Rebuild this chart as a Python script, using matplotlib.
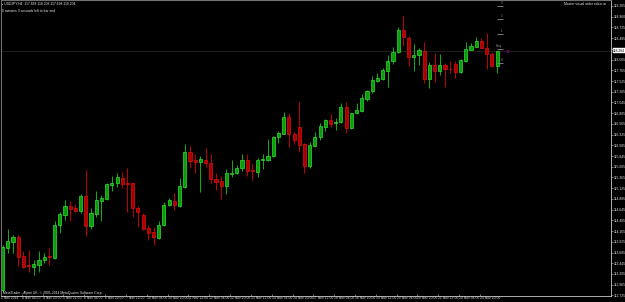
import matplotlib
matplotlib.use("Agg")
import matplotlib.pyplot as plt
import numpy as np

# USDJPY H4 candles
opens = [112.846, 113.793, 113.927, 114.039, 113.607, 113.395, 113.368, 113.406, 113.518, 113.592,
         113.569, 114.295, 114.532, 114.727, 114.675, 114.621, 114.957, 114.286, 114.554, 114.845,
         114.890, 115.204, 115.235, 115.360, 115.242, 115.235, 114.689, 114.525, 114.227, 114.145,
         114.017, 114.295, 114.742, 114.839, 114.727, 115.159, 115.936, 115.757, 115.719, 115.757,
         115.696, 115.331, 115.286, 115.181, 115.443, 115.459, 115.571, 115.757, 115.539, 115.495,
         115.757, 115.757, 115.839, 116.272, 116.346, 116.713, 116.346, 116.489, 116.108, 115.616,
         116.077, 116.272, 116.502, 116.646, 116.578, 116.614, 116.937, 116.466, 116.802, 116.860,
         117.129, 117.302, 117.532, 117.570, 117.756, 117.973, 118.168, 118.667, 118.495, 118.056,
         118.114, 118.204, 117.570, 117.884, 117.756, 117.884, 117.794, 117.906, 117.720, 117.980,
         118.226, 118.293, 118.428, 118.271, 118.130, 117.868]
highs = [113.854, 114.212, 114.077, 114.066, 113.719, 113.742, 113.518, 113.726, 113.681, 113.793,
         114.391, 114.592, 114.854, 114.832, 114.771, 114.995, 115.533, 114.682, 115.063, 114.973,
         115.235, 115.398, 115.472, 115.481, 115.584, 115.264, 114.727, 114.563, 114.301, 114.263,
         114.391, 114.823, 114.913, 115.024, 115.360, 116.115, 116.070, 115.891, 115.853, 116.019,
         115.884, 115.472, 115.398, 115.548, 115.757, 115.645, 115.891, 115.884, 115.683, 115.808,
         115.884, 116.220, 116.301, 116.413, 116.831, 116.809, 116.377, 117.062, 116.126, 116.166,
         116.377, 116.578, 116.675, 116.787, 116.690, 117.026, 117.049, 116.816, 117.026, 117.228,
         117.324, 117.644, 117.698, 117.823, 118.108, 118.293, 118.728, 118.981, 118.533, 118.354,
         118.258, 118.392, 117.958, 118.146, 118.123, 117.935, 117.980, 117.980, 118.018, 118.399,
         118.370, 118.504, 118.481, 118.600, 118.181, 118.208]
lows = [112.801, 113.681, 113.668, 113.390, 113.332, 113.249, 113.182, 113.249, 113.444, 113.406,
        113.547, 114.129, 114.413, 114.391, 114.592, 114.577, 114.062, 114.218, 114.487, 114.398,
        114.854, 115.069, 115.159, 115.123, 114.599, 114.474, 114.250, 114.189, 113.965, 113.854,
        113.995, 114.279, 114.727, 114.637, 114.711, 115.130, 115.577, 115.459, 115.040, 115.593,
        115.248, 115.085, 114.883, 115.002, 115.383, 115.436, 115.510, 115.398, 115.309, 115.369,
        115.548, 115.728, 115.824, 116.144, 116.332, 116.054, 116.108, 115.942, 115.459, 115.571,
        116.054, 116.204, 116.406, 116.502, 116.428, 116.585, 116.355, 116.451, 116.787, 116.825,
        117.084, 117.250, 117.510, 117.548, 117.398, 117.899, 118.146, 118.309, 117.861, 117.756,
        117.884, 117.474, 117.375, 117.510, 117.660, 117.398, 117.711, 117.586, 117.698, 117.958,
        118.220, 118.280, 118.258, 117.794, 117.846, 117.698]
closes = [113.809, 113.943, 114.039, 113.592, 113.368, 113.372, 113.428, 113.518, 113.592, 113.578,
          114.295, 114.541, 114.720, 114.653, 114.621, 114.951, 114.286, 114.570, 114.854, 114.906,
          115.213, 115.248, 115.369, 115.226, 115.226, 114.675, 114.586, 114.212, 114.129, 114.026,
          114.301, 114.749, 114.861, 114.742, 115.168, 115.936, 115.741, 115.705, 115.772, 115.696,
          115.324, 115.264, 115.174, 115.459, 115.472, 115.577, 115.757, 115.517, 115.504, 115.763,
          115.779, 115.846, 116.278, 116.361, 116.719, 116.346, 116.204, 116.099, 115.616, 116.092,
          116.278, 116.511, 116.652, 116.569, 116.614, 116.937, 116.480, 116.802, 116.869, 117.138,
          117.302, 117.548, 117.586, 117.772, 117.980, 118.168, 118.667, 118.504, 118.056, 118.108,
          118.220, 117.570, 117.884, 117.756, 117.884, 117.787, 117.783, 117.720, 117.996, 118.235,
          118.309, 118.428, 118.271, 118.123, 117.868, 118.204]

time_labels = ["2 Nov 2014", "4 Nov 04:00", "4 Nov 20:00", "5 Nov 12:00", "6 Nov 04:00",
               "6 Nov 20:00", "7 Nov 12:00", "10 Nov 04:00", "10 Nov 20:00", "11 Nov 12:00",
               "12 Nov 04:00", "12 Nov 20:00", "13 Nov 12:00", "14 Nov 04:00", "14 Nov 20:00",
               "17 Nov 12:00", "18 Nov 04:00", "18 Nov 20:00", "19 Nov 12:00", "20 Nov 04:00",
               "20 Nov 20:00", "21 Nov 12:00", "24 Nov 04:00", "24 Nov 20:00"]
price_labels = ["119.205", "118.960", "118.725", "118.485", "118.240", "118.005", "117.765",
                "117.525", "117.285", "117.045", "116.805", "116.565", "116.325", "116.085",
                "115.845", "115.605", "115.365", "115.125", "114.885", "114.645", "114.405",
                "114.165", "113.925", "113.685", "113.445", "113.205", "112.965", "112.725"]

# order editor levels drawn at the right of the last bar
order_levels = [119.205, 118.914, 118.578, 118.242, 117.928]
order_names = ["3", "2", "1", "Entry", "S"]

FONT = ["Liberation Sans", "DejaVu Sans"]
FS = 2.4

fig = plt.figure(figsize=(6.25, 3.02), dpi=100, facecolor="black")
ax = fig.add_axes([1 / 625, 6 / 302, 610 / 625, 296 / 302])
ax.set_facecolor("black")

o = np.array(opens)
h = np.array(highs)
l = np.array(lows)
c = np.array(closes)
x = np.arange(len(o))
up = c >= o

# bid line
ax.axhline(c[-1], color="#2c2c2c", lw=0.5, zorder=0)

wick_col = np.where(up, "#10b010", "#c00000")
ax.vlines(x, l, h, colors=wick_col, lw=0.7, zorder=1)
body_lo = np.minimum(o, c)
body_h = np.maximum(np.abs(c - o), 0.022)
ax.bar(x[up], body_h[up], bottom=body_lo[up], width=0.6,
       color="#0e9a0e", edgecolor="#2ee02e", lw=0.5, zorder=2)
ax.bar(x[~up], body_h[~up], bottom=body_lo[~up], width=0.6,
       color="#a80000", edgecolor="#e01010", lw=0.5, zorder=2)

ax.set_xlim(-0.2, -0.2 + 610 / 5.21)
ax.set_ylim(112.711, 119.339)

# axes look
for s in ["left", "top"]:
    ax.spines[s].set_color("#707070")
    ax.spines[s].set_linewidth(0.8)
for s in ["right", "bottom"]:
    ax.spines[s].set_color("#c8c8c8")
    ax.spines[s].set_linewidth(0.6)

ax.yaxis.tick_right()
ax.set_yticks([float(v) for v in price_labels], price_labels)
ax.set_xticks(np.arange(0, len(time_labels) * 4, 4) - 0.3, time_labels, ha="left")
ax.tick_params(axis="both", colors="#c8c8c8", length=1.5, width=0.4, labelsize=FS,
               labelcolor="#e0e0e0", pad=0.6)
ax.tick_params(axis="x", direction="in", pad=0.3)
for lab in ax.get_xticklabels() + ax.get_yticklabels():
    lab.set_family(FONT)

# current price box
ax.annotate(f"{c[-1]:.3f}", xy=(1.0, c[-1]), xycoords=("axes fraction", "data"),
            xytext=(1.5, 0), textcoords="offset points", va="center", ha="left",
            fontsize=FS, family=FONT, color="black",
            bbox=dict(boxstyle="square,pad=0.15", fc="white", ec="white", lw=0.3))

# order editor marks
for lv, nm in zip(order_levels, order_names):
    ax.hlines(lv, 94.9, 96.2, colors="#8c8c8c", lw=0.6)
    ax.text(96.0, lv + 0.02, nm, color="#9a9a9a", fontsize=1.9, family=FONT,
            ha="right", va="bottom")
ax.text(96.6, 118.164, "-11", color="#c000c0", fontsize=2.4, family=FONT,
        va="center", ha="left")

# header and footer texts
fig.text(2 / 625, 1 - 4 / 302, "\u25aa USDJPY,H4  %.3f %.3f %.3f %.3f" % (o[-1], h[-1], l[-1], c[-1]),
         color="#e8e8e8", fontsize=FS, family=FONT, va="center", ha="left")
fig.text(2 / 625, 1 - 11 / 302, "0 minutes 3 seconds left to bar end",
         color="#e8e8e8", fontsize=FS, family=FONT, va="center", ha="left")
fig.text(605 / 625, 1 - 4 / 302, "Master visual order editor \u25a1",
         color="#e8e8e8", fontsize=FS, family=FONT, va="center", ha="right")
fig.text(3 / 625, 1 - 293 / 302, "MetaTrader - Alpari UK, \u00a9 2001-2014 MetaQuotes Software Corp.",
         color="#e8e8e8", fontsize=FS, family=FONT, va="center", ha="left")

fig.savefig("out.png", dpi=100, facecolor="black")
